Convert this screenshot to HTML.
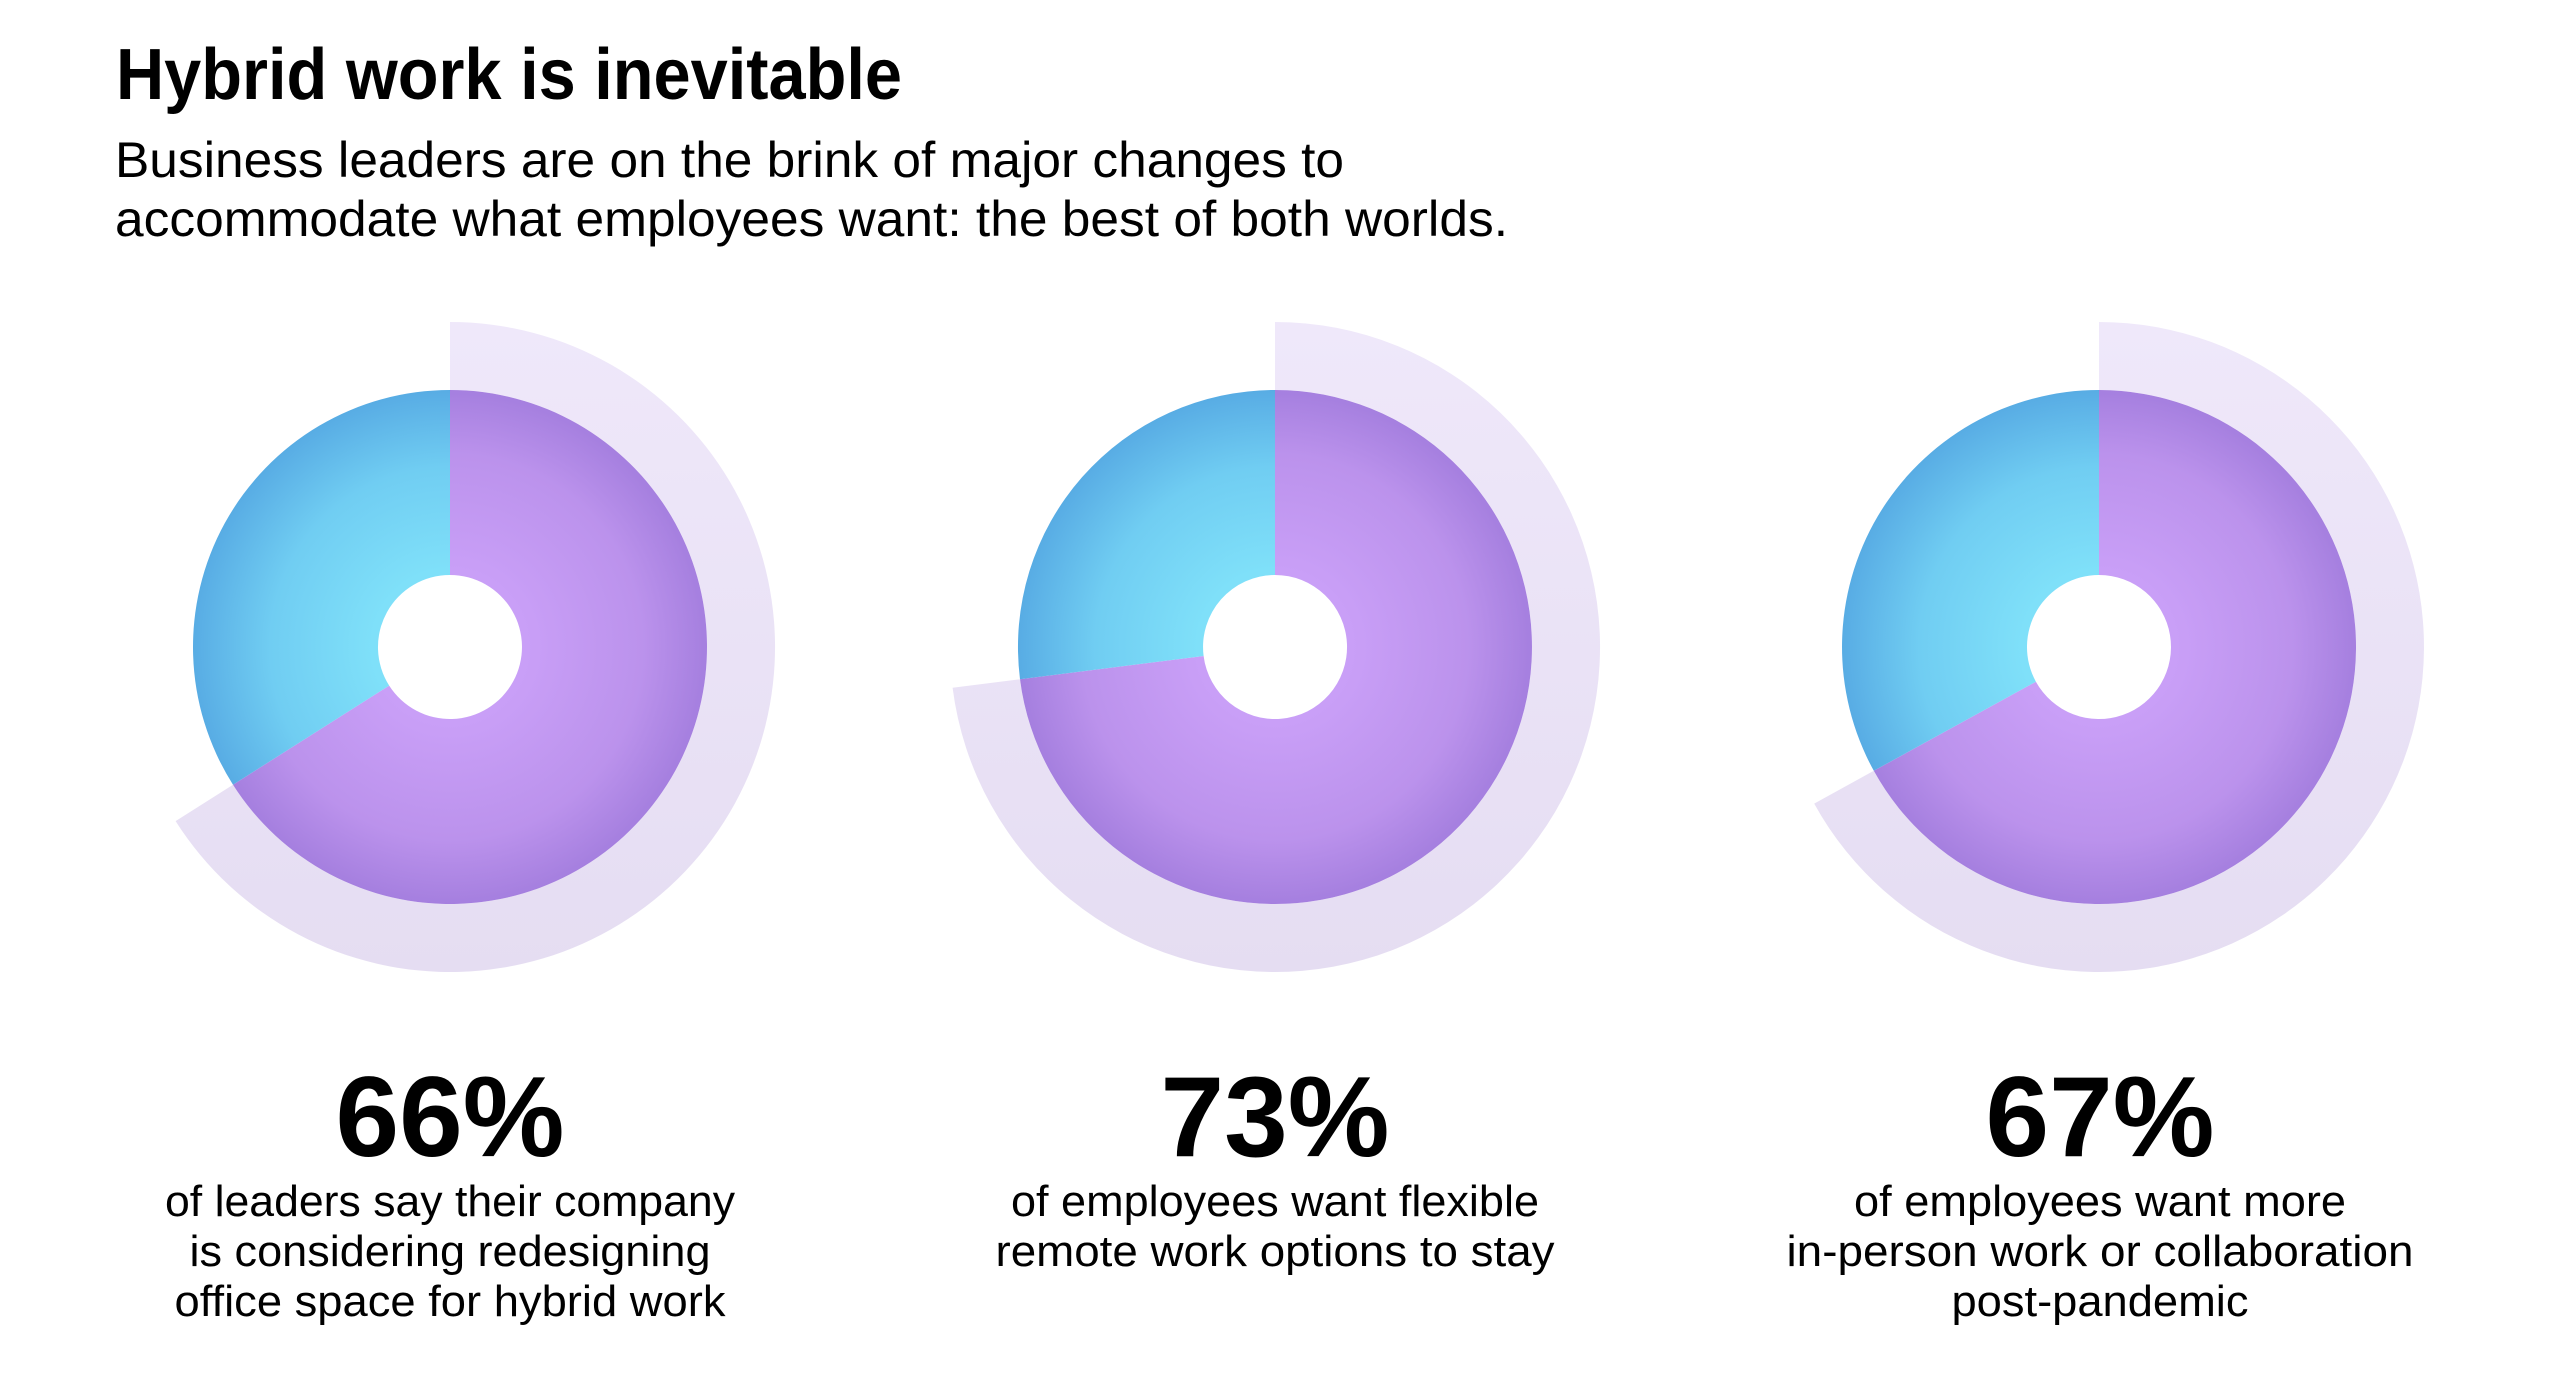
<!DOCTYPE html>
<html><head><meta charset="utf-8"><style>
html,body{margin:0;padding:0;background:#fff;}
svg{display:block;}
text{font-family:"Liberation Sans",sans-serif;fill:#000;}
</style></head><body>
<svg width="2560" height="1389" viewBox="0 0 2560 1389" xmlns="http://www.w3.org/2000/svg">
<defs>
<radialGradient id="p1" gradientUnits="userSpaceOnUse" cx="450" cy="647" r="257"><stop offset="0.3" stop-color="#c99ff7"/><stop offset="0.75" stop-color="#bb92ec"/><stop offset="1" stop-color="#a57fdf"/></radialGradient>
<radialGradient id="p2" gradientUnits="userSpaceOnUse" cx="1275" cy="647" r="257"><stop offset="0.3" stop-color="#c99ff7"/><stop offset="0.75" stop-color="#bb92ec"/><stop offset="1" stop-color="#a57fdf"/></radialGradient>
<radialGradient id="p3" gradientUnits="userSpaceOnUse" cx="2099" cy="647" r="257"><stop offset="0.3" stop-color="#c99ff7"/><stop offset="0.75" stop-color="#bb92ec"/><stop offset="1" stop-color="#a57fdf"/></radialGradient>
<radialGradient id="b1" gradientUnits="userSpaceOnUse" cx="450" cy="647" r="257"><stop offset="0.3" stop-color="#7fe0f9"/><stop offset="0.7" stop-color="#70cdf2"/><stop offset="1" stop-color="#58ace4"/></radialGradient>
<radialGradient id="b2" gradientUnits="userSpaceOnUse" cx="1275" cy="647" r="257"><stop offset="0.3" stop-color="#7fe0f9"/><stop offset="0.7" stop-color="#70cdf2"/><stop offset="1" stop-color="#58ace4"/></radialGradient>
<radialGradient id="b3" gradientUnits="userSpaceOnUse" cx="2099" cy="647" r="257"><stop offset="0.3" stop-color="#7fe0f9"/><stop offset="0.7" stop-color="#70cdf2"/><stop offset="1" stop-color="#58ace4"/></radialGradient>
<linearGradient id="lg" x1="0" y1="0" x2="0" y2="1"><stop offset="0" stop-color="#efe8fa"/><stop offset="1" stop-color="#e5ddf2"/></linearGradient>
</defs>

<text x="116" y="99" font-size="72" font-weight="bold" textLength="786" lengthAdjust="spacingAndGlyphs">Hybrid work is inevitable</text>
<text x="115" y="177" font-size="50" textLength="1229" lengthAdjust="spacingAndGlyphs">Business leaders are on the brink of major changes to</text>
<text x="115" y="236" font-size="50" textLength="1393" lengthAdjust="spacingAndGlyphs">accommodate what employees want: the best of both worlds.</text>

<!-- Donut 1 -->
<path d="M450 322 A325 325 0 1 1 175.6 821.1 L233.0 784.7 A257 257 0 1 0 450 390 Z" fill="url(#lg)"/>
<path d="M450 390 A257 257 0 1 1 233.0 784.7 L389.2 685.6 A72 72 0 1 0 450 575 Z" fill="url(#p1)"/>
<path d="M233.0 784.7 A257 257 0 0 1 450 390 L450 575 A72 72 0 0 0 389.2 685.6 Z" fill="url(#b1)"/>

<!-- Donut 2 -->
<path d="M1275 322 A325 325 0 1 1 952.6 687.7 L1020.0 679.2 A257 257 0 1 0 1275 390 Z" fill="url(#lg)"/>
<path d="M1275 390 A257 257 0 1 1 1020.0 679.2 L1203.6 656.0 A72 72 0 1 0 1275 575 Z" fill="url(#p2)"/>
<path d="M1020.0 679.2 A257 257 0 0 1 1275 390 L1275 575 A72 72 0 0 0 1203.6 656.0 Z" fill="url(#b2)"/>

<!-- Donut 3 -->
<path d="M2099 322 A325 325 0 1 1 1814.2 803.6 L1873.8 770.8 A257 257 0 1 0 2099 390 Z" fill="url(#lg)"/>
<path d="M2099 390 A257 257 0 1 1 1873.8 770.8 L2035.9 681.7 A72 72 0 1 0 2099 575 Z" fill="url(#p3)"/>
<path d="M1873.8 770.8 A257 257 0 0 1 2099 390 L2099 575 A72 72 0 0 0 2035.9 681.7 Z" fill="url(#b3)"/>

<g text-anchor="middle">
<text x="450" y="1156" font-size="114" font-weight="bold" textLength="229" lengthAdjust="spacingAndGlyphs">66%</text>
<text x="450" y="1216" font-size="44" textLength="570" lengthAdjust="spacingAndGlyphs">of leaders say their company</text>
<text x="450" y="1266" font-size="44" textLength="521" lengthAdjust="spacingAndGlyphs">is considering redesigning</text>
<text x="450" y="1316" font-size="44" textLength="551" lengthAdjust="spacingAndGlyphs">office space for hybrid work</text>

<text x="1275" y="1156" font-size="114" font-weight="bold" textLength="229" lengthAdjust="spacingAndGlyphs">73%</text>
<text x="1275" y="1216" font-size="44" textLength="528" lengthAdjust="spacingAndGlyphs">of employees want flexible</text>
<text x="1275" y="1266" font-size="44" textLength="559" lengthAdjust="spacingAndGlyphs">remote work options to stay</text>

<text x="2100" y="1156" font-size="114" font-weight="bold" textLength="229" lengthAdjust="spacingAndGlyphs">67%</text>
<text x="2100" y="1216" font-size="44" textLength="492" lengthAdjust="spacingAndGlyphs">of employees want more</text>
<text x="2100" y="1266" font-size="44" textLength="627" lengthAdjust="spacingAndGlyphs">in-person work or collaboration</text>
<text x="2100" y="1316" font-size="44" textLength="297" lengthAdjust="spacingAndGlyphs">post-pandemic</text>
</g>
</svg>
</body></html>
